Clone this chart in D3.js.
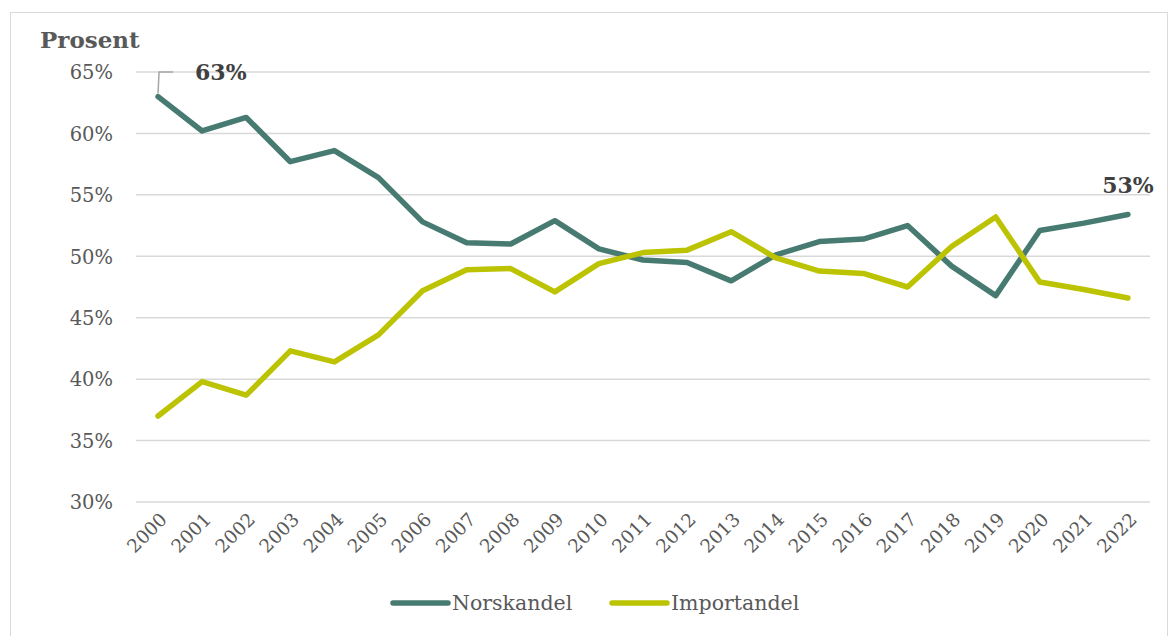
<!DOCTYPE html>
<html>
<head>
<meta charset="utf-8">
<script src="https://cdn.jsdelivr.net/npm/d3@7"></script>
<style>
  body { margin: 0; background: #fff; }
  svg text { font-family: Georgia, 'DejaVu Serif', serif; fill: #595959; }
</style>
</head>
<body>
<div id="chart"></div>
<script>
// Data
const years = ['2000','2001','2002','2003','2004','2005','2006','2007','2008','2009','2010',
    '2011','2012','2013','2014','2015','2016','2017','2018','2019','2020','2021','2022'];
const norskandel = [63.0, 60.2, 61.3, 57.7, 58.6, 56.4, 52.8, 51.1, 51.0, 52.9, 50.6,
    49.7, 49.5, 48.0, 50.1, 51.2, 51.4, 52.5, 49.2, 46.8, 52.1, 52.7, 53.4];
const importandel = [37.0, 39.8, 38.7, 42.3, 41.4, 43.6, 47.2, 48.9, 49.0, 47.1, 49.4,
    50.3, 50.5, 52.0, 49.9, 48.8, 48.6, 47.5, 50.8, 53.2, 47.9, 47.3, 46.6];
const yTicks = [30, 35, 40, 45, 50, 55, 60, 65];

const series = [
    { name: 'Norskandel', values: norskandel, color: '#477b72' },
    { name: 'Importandel', values: importandel, color: '#bcc303' }
];

const svgWidth = 1170, svgHeight = 636;

const svg = d3.select('#chart')
    .append('svg')
    .attr('width', svgWidth)
    .attr('height', svgHeight);

// Outer border
svg.append('rect')
    .attr('x', 10.5).attr('y', 12.5)
    .attr('width', 1157).attr('height', 640)
    .attr('fill', 'none')
    .attr('stroke', '#d9d9d9');

// Scales
const x = d3.scalePoint()
    .domain(years)
    .range([136, 1150])
    .padding(0.5);
const y = d3.scaleLinear()
    .domain([30, 65])
    .range([502, 72]);

// Gridlines
svg.append('g')
    .selectAll('line')
    .data(yTicks)
    .enter()
    .append('line')
    .attr('x1', 136).attr('x2', 1150)
    .attr('y1', d => y(d)).attr('y2', d => y(d))
    .attr('stroke', '#d9d9d9')
    .attr('stroke-width', 1.5);

// Y axis
const yAxis = svg.append('g')
    .attr('transform', 'translate(113,0)')
    .call(d3.axisLeft(y).tickValues(yTicks).tickSize(0).tickPadding(0).tickFormat(d => d + '%'));
yAxis.select('.domain').remove();
yAxis.selectAll('text')
    .style('font-size', '19.5px')
    .attr('dy', '0.35em');

// X axis
const xAxis = svg.append('g')
    .attr('transform', 'translate(0,502)')
    .call(d3.axisBottom(x).tickSize(0).tickPadding(0));
xAxis.select('.domain').remove();
xAxis.selectAll('text')
    .style('font-size', '18.5px')
    .attr('text-anchor', 'end')
    .attr('transform', 'translate(5,14) rotate(-45)')
    .attr('dy', '0.35em');

// Title
svg.append('text')
    .attr('x', 40).attr('y', 48)
    .style('font-size', '23px')
    .style('font-weight', 'bold')
    .text('Prosent');

// Lines
const line = d3.line()
    .x((d, i) => x(years[i]))
    .y(d => y(d));

svg.selectAll('.series')
    .data(series)
    .enter()
    .append('path')
    .attr('class', 'series')
    .attr('d', d => line(d.values))
    .attr('fill', 'none')
    .attr('stroke', d => d.color)
    .attr('stroke-width', 5.5)
    .attr('stroke-linejoin', 'round')
    .attr('stroke-linecap', 'round');

// Data labels
const first = norskandel[0], last = norskandel[norskandel.length - 1];
svg.append('path')
    .attr('d', `M${x(years[0])},${y(first) - 3} L${x(years[0]) + 1},${y(65)} L${x(years[0]) + 15},${y(65)}`)
    .attr('fill', 'none')
    .attr('stroke', '#a6a6a6')
    .attr('stroke-width', 1.5);
svg.append('text')
    .attr('x', x(years[0]) + 37).attr('y', y(65) + 8)
    .style('font-size', '22px')
    .style('font-weight', 'bold')
    .style('fill', '#404040')
    .text(Math.round(first) + '%');
svg.append('text')
    .attr('x', x(years[years.length - 1])).attr('y', y(last) - 22)
    .attr('text-anchor', 'middle')
    .style('font-size', '22px')
    .style('font-weight', 'bold')
    .style('fill', '#404040')
    .text(Math.round(last) + '%');

// Legend
const legend = svg.append('g');
const legendX = [393, 612];
series.forEach((s, i) => {
    const g = legend.append('g').attr('transform', `translate(${legendX[i]},603)`);
    g.append('line')
        .attr('x1', 0).attr('x2', 55)
        .attr('stroke', s.color)
        .attr('stroke-width', 5.5)
        .attr('stroke-linecap', 'round');
    g.append('text')
        .attr('x', 59).attr('dy', '0.35em')
        .style('font-size', '20.5px')
        .text(s.name);
});
</script>
</body>
</html>
